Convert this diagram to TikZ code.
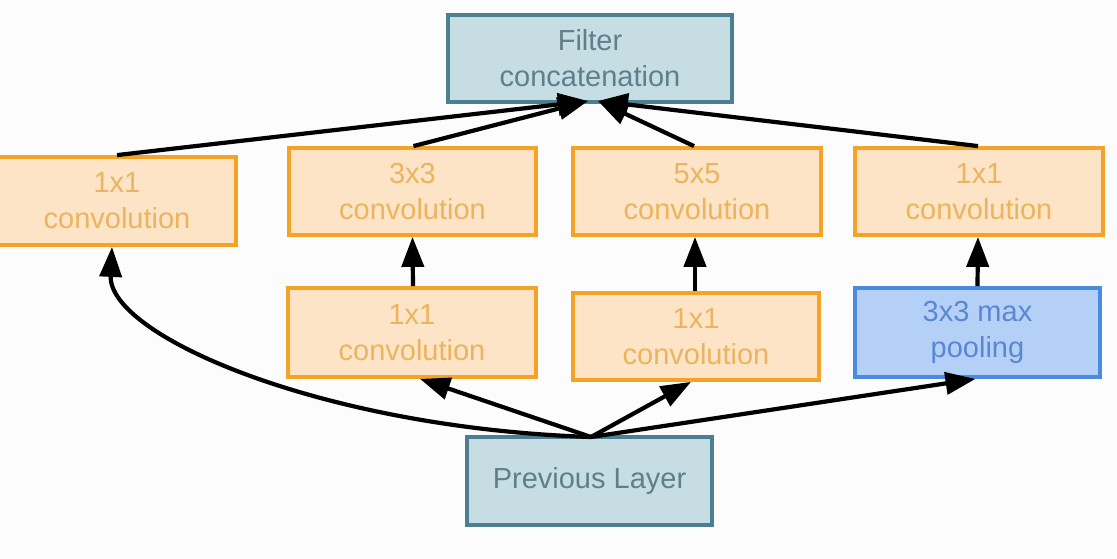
\documentclass[tikz,border=0pt]{standalone}
\usepackage{fontspec}
\setmainfont{Liberation Sans}
\usetikzlibrary{arrows.meta}
\definecolor{bgc}{HTML}{FBFCFB}
\definecolor{orfill}{HTML}{FDE4C6}
\definecolor{ordraw}{HTML}{F5A327}
\definecolor{ortext}{HTML}{EBB45E}
\definecolor{blfill}{HTML}{C6DDE4}
\definecolor{bldraw}{HTML}{4C7F90}
\definecolor{bltext}{HTML}{5F7F8A}
\definecolor{plfill}{HTML}{B5D0F6}
\definecolor{pldraw}{HTML}{4A8BE0}
\definecolor{pltext}{HTML}{5A87D2}
\tikzset{
  box/.style={rectangle, line width=3.8pt, minimum height=87pt, align=center,
    font=\fontsize{29}{36}\selectfont, inner sep=0pt},
  orbox/.style={box, fill=orfill, draw=ordraw, text=ortext},
  blbox/.style={box, fill=blfill, draw=bldraw, text=bltext},
  plbox/.style={box, fill=plfill, draw=pldraw, text=pltext},
  arr/.style={line width=4.2pt, -{Triangle[length=30pt,width=22pt]}},
}
\begin{document}
\begin{tikzpicture}[x=1pt,y=-1pt]
\fill[bgc] (0,0) rectangle (1117,559);
\useasboundingbox (0,0) rectangle (1117,559);

\node[blbox, minimum width=284pt] (concat) at (590,58.5) {Filter\\concatenation};
\node[orbox, minimum width=238pt, minimum height=88pt] (c1) at (117,201) {1x1\\convolution};
\node[orbox, minimum width=247pt] (c3) at (412.5,191.5) {3x3\\convolution};
\node[orbox, minimum width=248pt] (c5) at (697,191.5) {5x5\\convolution};
\node[orbox, minimum width=248pt] (c1r) at (979,191.5) {1x1\\convolution};
\node[orbox, minimum width=248pt, minimum height=89pt] (r3) at (412,332.5) {1x1\\convolution};
\node[orbox, minimum width=246pt] (r5) at (696,336.5) {1x1\\convolution};
\node[plbox, minimum width=245pt, minimum height=89pt] (pool) at (977.5,332.5) {3x3 max\\pooling};
\node[blbox, minimum width=245pt, minimum height=88pt] (prev) at (589.5,481) {Previous Layer};

\coordinate (tipL) at (588,101);
\coordinate (tipR) at (598,101);
\coordinate (src) at (591,437);

\draw[arr] (c1.north) -- (tipL);
\draw[arr] ([xshift=1pt]c3.north) -- (tipL);
\draw[arr] ([xshift=-3pt]c5.north) -- (tipR);
\draw[arr] ([xshift=-1pt]c1r.north) -- (tipR);

\draw[arr] ([xshift=1pt]r3.north) -- (c3.south);
\draw[arr] ([xshift=-1pt]r5.north) -- ([xshift=-2pt]c5.south);
\draw[arr] (pool.north) -- ([xshift=-1pt]c1r.south);

\draw[arr] (src) .. controls (320,428) and (108,335) .. ([xshift=-5pt]c1.south);
\draw[arr] (src) -- ([xshift=8pt]r3.south);
\draw[arr] (src) -- ([xshift=-5pt]r5.south);
\draw[arr] (src) -- ([xshift=-2pt]pool.south);
\end{tikzpicture}
\end{document}
